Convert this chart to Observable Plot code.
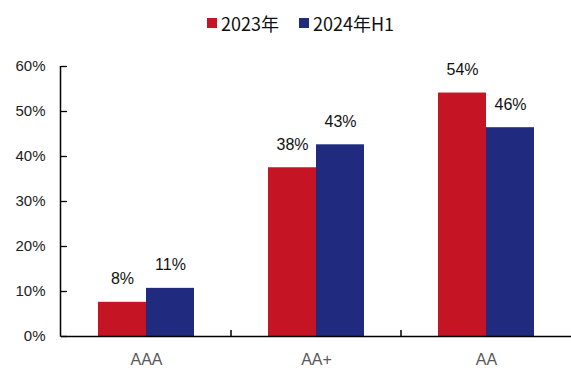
<!DOCTYPE html>
<html><head><meta charset="utf-8">
<script src="https://cdn.jsdelivr.net/npm/d3@7"></script>
<script src="https://cdn.jsdelivr.net/npm/@observablehq/plot@0.6"></script>
<style>
body{margin:0;background:#fff;width:571px;}
#legend{height:45px;display:flex;justify-content:center;align-items:center;padding-left:30px;box-sizing:border-box;font-family:"Noto Sans CJK SC",sans-serif;font-size:18px;color:#111;}
.item{display:flex;align-items:center;margin:0 10px;}
.sw{width:10px;height:10px;margin-right:4px;}
</style></head><body>
<div id="legend"></div><div id="chart"></div>
<script>
const categories = ["AAA", "AA+", "AA"];
const seriesNames = ["2023年", "2024年H1"];
const colors = ["#C51524", "#202B80"];
const values2023 = [7.6, 37.5, 54.1];
const values2024H1 = [10.7, 42.6, 46.4];
const yTicks = [0, 10, 20, 30, 40, 50, 60];

const data = categories.flatMap((c, i) => [
  {cat: c, series: seriesNames[0], value: values2023[i]},
  {cat: c, series: seriesNames[1], value: values2024H1[i]}
]);

const legend = d3.select("#legend");
seriesNames.forEach((s, i) => {
  const it = legend.append("div").attr("class", "item");
  it.append("div").attr("class", "sw").style("background", colors[i]);
  it.append("span").text(s);
});

const chart = Plot.plot({
  width: 571, height: 325,
  marginLeft: 61, marginRight: 0, marginTop: 21, marginBottom: 34,
  style: {fontFamily: "'Liberation Sans', Arial, sans-serif", background: "#fff"},
  fx: {domain: categories, padding: 0, label: null},
  x: {domain: seriesNames, paddingInner: 0, paddingOuter: 0.75, axis: null},
  y: {domain: [0, 60], label: null},
  color: {domain: seriesNames, range: colors},
  marks: [
    Plot.barY(data, {fx: "cat", x: "series", y: "value", fill: "series"}),
    Plot.text(data, {fx: "cat", x: "series", y: "value", text: d => Math.round(d.value) + "%", dy: -23, fontSize: 16, fill: "#111"}),
    Plot.ruleY([0], {stroke: "#000", strokeWidth: 1.5}),
    Plot.axisY({ticks: yTicks, tickSize: 0, tickPadding: 16, tickFormat: d => d + "%", fontSize: 15, fill: "#222", label: null}),
    Plot.axisY({ticks: yTicks, tickSize: 6, dx: 6, tickFormat: () => "", stroke: "#000", strokeWidth: 1.3, label: null}),
    Plot.axisFx({anchor: "bottom", tickSize: 0, tickPadding: 17, fontSize: 16, fill: "#595959", label: null})
  ]
});
document.getElementById("chart").appendChild(chart);

// y-axis line and category separators from the library's scales
const fx = chart.scale("fx"), y = chart.scale("y");
const svg = d3.select(chart);
const x0 = fx.apply(categories[0]);
svg.append("line").attr("x1", x0 - 0.5).attr("x2", x0 - 0.5)
  .attr("y1", y.apply(60)).attr("y2", y.apply(0) + 0.75)
  .attr("stroke", "#000").attr("stroke-width", 1.5);
categories.slice(1).forEach(c => {
  const xx = fx.apply(c);
  svg.append("line").attr("x1", xx).attr("x2", xx)
    .attr("y1", y.apply(0)).attr("y2", y.apply(0) - 6)
    .attr("stroke", "#000").attr("stroke-width", 1.5);
});
</script>
</body></html>
